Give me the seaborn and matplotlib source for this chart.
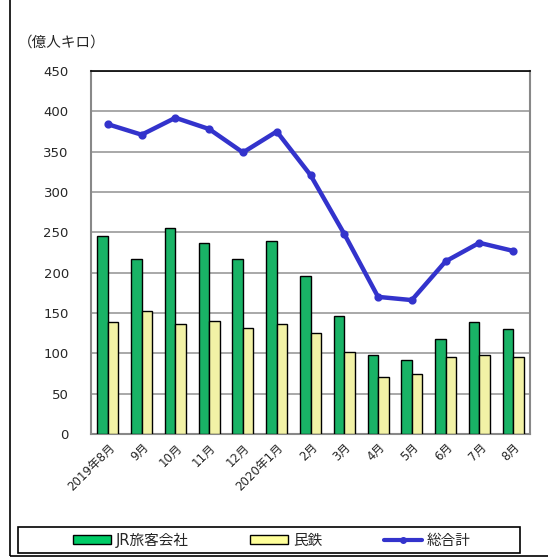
import pandas as pd
import numpy as np
import matplotlib
matplotlib.use("Agg")
import matplotlib.pyplot as plt
import seaborn as sns
from matplotlib.patches import Patch, Rectangle
from matplotlib.lines import Line2D

# monthly passenger-km (100 million)
months = ["2019年8月", "9月", "10月", "11月", "12月", "2020年1月", "2月",
          "3月", "4月", "5月", "6月", "7月", "8月"]
jr = [245, 217, 255, 237, 217, 239, 196, 146, 98, 92, 118, 139, 130]
private = [139, 153, 136, 140, 131, 136, 125, 102, 71, 74, 96, 98, 96]
total = [384, 371, 392, 378, 349, 375, 321, 248, 170, 166, 214, 237, 227]

series_names = ["JR旅客会社", "民鉄", "総合計"]
green = "#00cc66"
yellow = "#ffff99"
blue = "#3333cc"

sns.set_theme(style="white")
plt.rcParams['font.family'] = ['DejaVu Sans', 'Noto Sans CJK JP']

df = pd.DataFrame({"month": months * 2,
                   "value": jr + private,
                   "series": [series_names[0]] * len(months) + [series_names[1]] * len(months)})

fig = plt.figure(figsize=(5.48, 5.6), dpi=100)
ax = fig.add_axes([91 / 548, 1 - 434 / 560, 439 / 548, 363 / 560])

sns.barplot(data=df, x="month", y="value", hue="series", order=months,
            palette=[green, yellow], width=0.62, edgecolor="black",
            linewidth=1, ax=ax, legend=False, zorder=3)
sns.pointplot(x=months, y=total, color=blue, markers="o", markersize=3.5,
              linewidth=3.2, ax=ax, zorder=4)

ax.set_ylim(0, 450)
ax.set_yticks(range(0, 451, 50))
ax.set_xlim(-0.5, len(months) - 0.5)
ax.yaxis.grid(True, color="#999999", linewidth=1.2, zorder=0)
ax.set_axisbelow(True)
ax.set_xlabel("")
ax.set_ylabel("")
for side in ["left", "bottom", "right"]:
    ax.spines[side].set_color("#888888")
    ax.spines[side].set_linewidth(1.5)
ax.spines["top"].set_color("black")
ax.spines["top"].set_linewidth(1.2)
ax.tick_params(axis="y", labelsize=9.5, length=0, pad=16)
ax.tick_params(axis="x", labelsize=8.5, length=0, pad=5)
plt.setp(ax.get_xticklabels(), rotation=45, ha="right", rotation_mode="anchor")

fig.text(18 / 548, 1 - 43 / 560, "（億人キロ）", fontsize=10.5, va="center", ha="left",
         family=['Noto Sans CJK JP'])

# outer frame
fig.patches.append(Rectangle((10 / 548, 4 / 560), 1, 1.2, transform=fig.transFigure,
                             fill=False, edgecolor="black", linewidth=1.2))
# legend box
fig.patches.append(Rectangle((18 / 548, 1 - 553 / 560), 502 / 548, 26 / 560,
                             transform=fig.transFigure, fill=False,
                             edgecolor="black", linewidth=1.2))

handles = [Patch(facecolor=green, edgecolor="black"),
           Patch(facecolor=yellow, edgecolor="black"),
           Line2D([0], [0], color=blue, linewidth=3, marker="o", markersize=4)]
leg = fig.legend(handles, series_names, loc="center", ncol=3,
                 bbox_to_anchor=(272 / 548, 1 - 540 / 560),
                 frameon=False, fontsize=10.5, handlelength=2.6, handleheight=0.5,
                 handletextpad=0.35, columnspacing=4.2)

fig.savefig("out.png", dpi=100)
